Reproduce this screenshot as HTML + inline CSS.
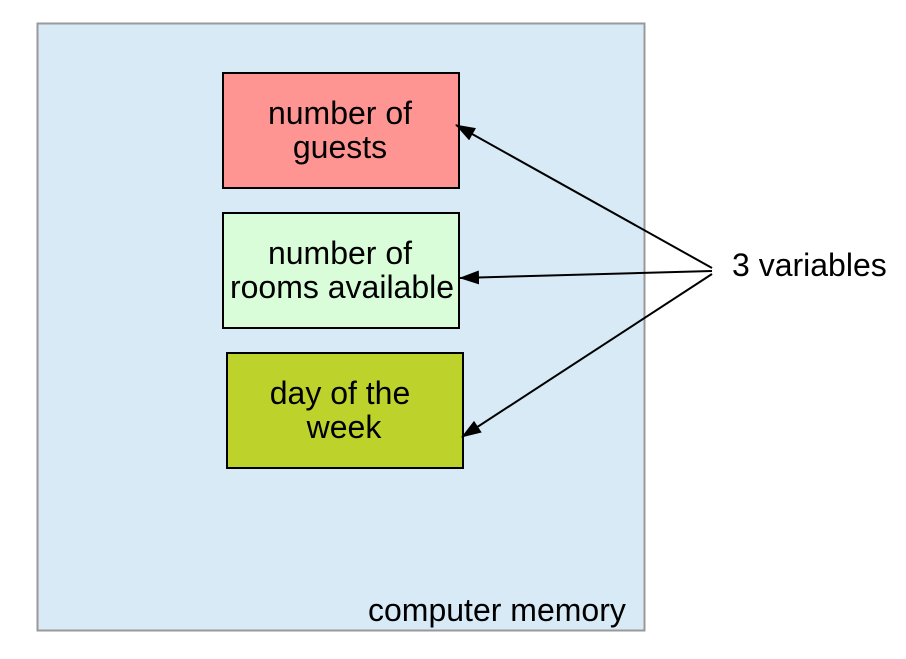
<!DOCTYPE html>
<html><head><style>
body{margin:0;width:906px;height:654px;background:#fff;overflow:hidden}
</style></head><body>
<svg width="906" height="654" xmlns="http://www.w3.org/2000/svg" font-family="Liberation Sans, sans-serif" font-size="32">
<defs><marker id="a" markerWidth="20" markerHeight="14" refX="19" refY="7" orient="auto" markerUnits="userSpaceOnUse"><path d="M0,0 L20,7 L0,14 z" fill="#000"/></marker></defs>
<rect x="37.5" y="23.5" width="607" height="607" fill="#d8eaf6" stroke="#999" stroke-width="2"/>
<rect x="223" y="73" width="236" height="115" fill="#ff9593" stroke="#000" stroke-width="2"/>
<rect x="223" y="213" width="236" height="115" fill="#d9fdd9" stroke="#000" stroke-width="2"/>
<rect x="227" y="353" width="236" height="115" fill="#bdd22a" stroke="#000" stroke-width="2"/>
<g text-anchor="middle" fill="#000">
<text x="340" y="124">number of</text><text x="340" y="158">guests</text>
<text x="340" y="264">number of</text><text x="342" y="298">rooms available</text>
<text x="340" y="404">day of the</text><text x="344" y="438">week</text>
</g>
<g stroke="#000" stroke-width="2" fill="none">
<line x1="712" y1="268" x2="456" y2="125" marker-end="url(#a)"/>
<line x1="712" y1="271" x2="460" y2="278" marker-end="url(#a)"/>
<line x1="712" y1="274" x2="462" y2="437" marker-end="url(#a)"/>
</g>
<text x="732" y="276">3 variables</text>
<text x="368" y="621">computer memory</text>
</svg>
</body></html>
